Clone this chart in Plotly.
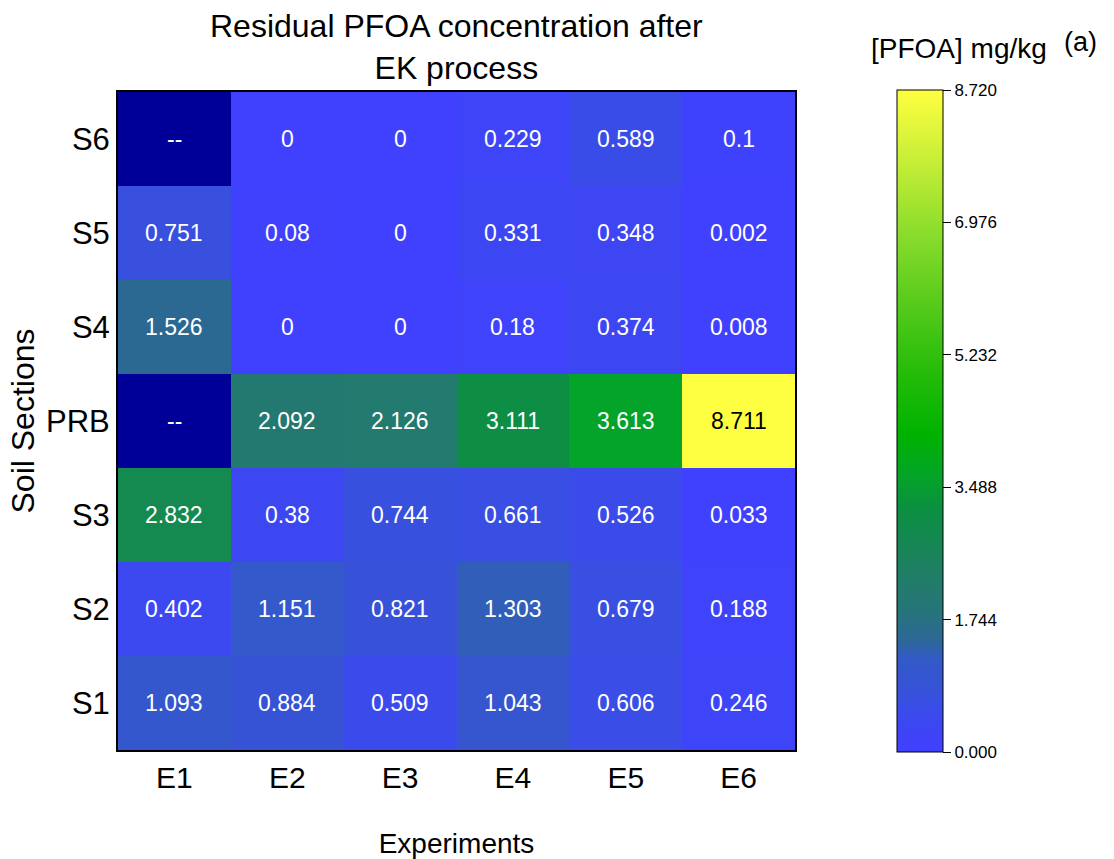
import plotly.graph_objects as go

experiments = ["E1", "E2", "E3", "E4", "E5", "E6"]
sections = ["S1", "S2", "S3", "PRB", "S4", "S5", "S6"]  # bottom to top

# rows = sections (bottom -> top), columns = experiments
E1 = [1.093, 0.402, 2.832, None, 1.526, 0.751, None]
E2 = [0.884, 1.151, 0.38, 2.092, 0, 0.08, 0]
E3 = [0.509, 0.821, 0.744, 2.126, 0, 0, 0]
E4 = [1.043, 1.303, 0.661, 3.111, 0.18, 0.331, 0.229]
E5 = [0.606, 0.679, 0.526, 3.613, 0.374, 0.348, 0.589]
E6 = [0.246, 0.188, 0.033, 8.711, 0.008, 0.002, 0.1]
cols = [E1, E2, E3, E4, E5, E6]

zmin, zmax = 0.0, 8.72
cbar_ticks = [0.0, 1.744, 3.488, 5.232, 6.976, 8.72]

z = [[cols[j][i] for j in range(len(experiments))] for i in range(len(sections))]
missing = [[1 if cols[j][i] is None else None for j in range(len(experiments))] for i in range(len(sections))]

colorscale = [
    [0.00, "#4040ff"], [0.03, "#3e44f6"], [0.07, "#3a4de6"], [0.10, "#3653d6"],
    [0.14, "#335ac8"], [0.17, "#2c6896"], [0.22, "#267677"], [0.28, "#1e8062"],
    [0.33, "#138a4e"], [0.37, "#0c9040"], [0.42, "#03a526"], [0.48, "#00b200"],
    [0.58, "#28bd0a"], [0.68, "#58cb1c"], [0.78, "#88dc2c"], [0.88, "#c0ec36"],
    [1.00, "#ffff40"],
]

FONT = "Liberation Sans, Arial"

fig = go.Figure()
fig.add_trace(go.Heatmap(
    z=z, x=experiments, y=sections, zmin=zmin, zmax=zmax,
    colorscale=colorscale, xgap=0, ygap=0, hoverongaps=False,
    colorbar=dict(
        x=1.15, xanchor="left", xpad=0, y=0.5, yanchor="middle", ypad=0,
        lenmode="pixels", len=662, thickness=46,
        outlinecolor="black", outlinewidth=1,
        tickmode="array", tickvals=cbar_ticks, tickformat=".3f",
        ticks="outside", ticklen=8, tickwidth=1, tickcolor="black",
        tickfont=dict(size=17, family=FONT, color="black"),
    ),
))
fig.add_trace(go.Heatmap(
    z=missing, x=experiments, y=sections, showscale=False,
    colorscale=[[0, "#000099"], [1, "#000099"]], hoverongaps=False,
))

annotations = []
for i, sec in enumerate(sections):
    for j, ex in enumerate(experiments):
        v = cols[j][i]
        txt = "--" if v is None else f"{v:g}"
        color = "black" if (v is not None and v > 7) else "white"
        annotations.append(dict(x=ex, y=sec, text=txt, showarrow=False,
                                font=dict(size=23, color=color, family=FONT)))

annotations.append(dict(xref="paper", yref="paper", x=0.5, y=1.0677, xanchor="center", yanchor="middle",
                        text="Residual PFOA concentration after<br>EK process", showarrow=False,
                        font=dict(size=32, color="black", family=FONT)))
annotations.append(dict(xref="paper", yref="paper", x=1.242, y=1.04, xanchor="center", yanchor="bottom",
                        text="[PFOA] mg/kg", showarrow=False,
                        font=dict(size=28, color="black", family=FONT)))
annotations.append(dict(xref="paper", yref="paper", x=1.422, y=1.05, xanchor="center", yanchor="bottom",
                        text="(a)", showarrow=False,
                        font=dict(size=27, color="black", family=FONT)))

fig.update_layout(
    width=1114, height=859,
    margin=dict(l=118, r=319, t=92, b=109),
    paper_bgcolor="white", plot_bgcolor="white",
    font=dict(family=FONT, color="black"),
    annotations=annotations,
    xaxis=dict(title=dict(text="Experiments", font=dict(size=28), standoff=40),
               tickfont=dict(size=30), showline=True, mirror=True, linecolor="black", linewidth=2,
               ticks="", showgrid=False, zeroline=False, automargin=False),
    yaxis=dict(title=dict(text="Soil Sections", font=dict(size=32), standoff=2),
               tickfont=dict(size=31), showline=True, mirror=True, linecolor="black", linewidth=2,
               ticks="", showgrid=False, zeroline=False, automargin=False),
)

fig.write_html("out.html")
